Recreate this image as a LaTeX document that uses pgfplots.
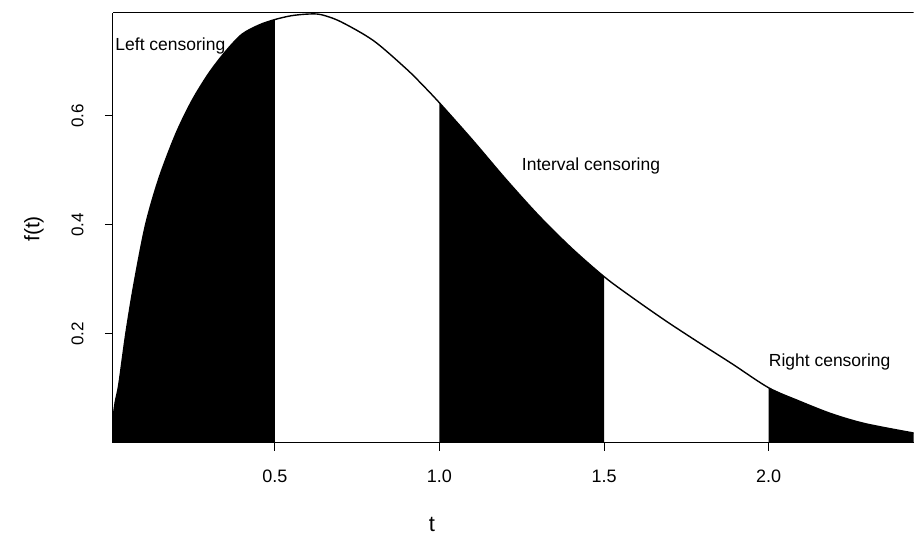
\documentclass[border=0pt]{standalone}
\usepackage{fontspec}
\setmainfont{Liberation Sans}
\usepackage{pgfplots}
\usepackage{pgfplotstable}
\pgfplotsset{compat=1.18}

% density
\pgfplotstableread{
t      f
0.008  0.045
0.015  0.075
0.026  0.108
0.047  0.200
0.072  0.292
0.107  0.400
0.148  0.486
0.199  0.567
0.248  0.628
0.300  0.679
0.351  0.719
0.400  0.750
0.452  0.767
0.500  0.777
0.550  0.784
0.600  0.787
0.640  0.786
0.700  0.773
0.800  0.738
0.900  0.686
0.950  0.656
1.000  0.624
1.100  0.556
1.200  0.485
1.300  0.418
1.400  0.358
1.500  0.305
1.585  0.267
1.687  0.224
1.788  0.184
1.889  0.145
2.000  0.101
2.091  0.077
2.192  0.053
2.294  0.035
2.440  0.018
}\density

\begin{document}
\begin{tikzpicture}
\begin{axis}[
    at={(113pt,92pt)}, anchor=south west,
    scale only axis,
    width=800.9pt, height=430pt,
    xmin=0.008, xmax=2.44,
    ymin=0, ymax=0.789,
    axis x line*=bottom, axis y line*=left,
    axis line style={line width=1pt, -},
    xtick={0.5,1,1.5,2},
    ytick={0.2,0.4,0.6},
    tick align=outside,
    major tick length=8pt,
    every tick/.style={black, line width=1pt},
    xticklabel style={font=\fontsize{18}{21}\selectfont, yshift=-16pt,
        /pgf/number format/fixed, /pgf/number format/fixed zerofill,
        /pgf/number format/precision=1, /pgf/number format/assume math mode=true},
    yticklabel style={font=\fontsize{17}{20}\selectfont, xshift=-18pt, rotate=90, anchor=south,
        /pgf/number format/fixed, /pgf/number format/fixed zerofill,
        /pgf/number format/precision=1, /pgf/number format/assume math mode=true},
]
\addplot[smooth, fill=black, draw=none, restrict x to domain=0:0.5] table[x=t, y=f] {\density} \closedcycle;
\addplot[smooth, fill=black, draw=none, restrict x to domain=1:1.5] table[x=t, y=f] {\density} \closedcycle;
\addplot[smooth, fill=black, draw=none, restrict x to domain=2:2.5] table[x=t, y=f] {\density} \closedcycle;
\addplot[smooth, black, line width=1.4pt] table[x=t, y=f] {\density};
\draw[line width=1pt] (rel axis cs:0,1) -- (rel axis cs:1,1);
\node[anchor=west, font=\fontsize{17.5}{20}\selectfont, inner sep=0pt] at (axis cs:0.015,0.728) {Left censoring};
\node[anchor=west, font=\fontsize{17.5}{20}\selectfont, inner sep=0pt] at (axis cs:1.25,0.508) {Interval censoring};
\node[anchor=west, font=\fontsize{17.5}{20}\selectfont, inner sep=0pt] at (axis cs:2.0,0.149) {Right censoring};
\end{axis}
\node[font=\fontsize{22}{24}\selectfont] at (432pt,10pt) {t};
\node[font=\fontsize{21}{24}\selectfont, rotate=90] at (34pt,306pt) {f(t)};
\path (0,0) rectangle (914pt,535pt);
\end{tikzpicture}
\end{document}
